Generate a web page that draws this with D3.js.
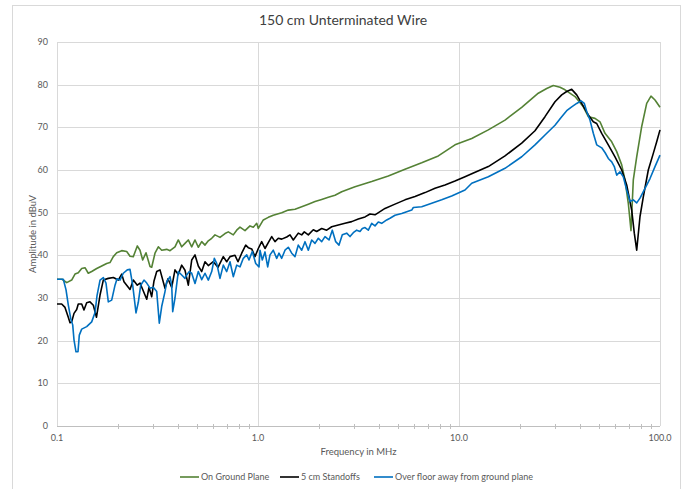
<!DOCTYPE html>
<html>
<head>
<meta charset="utf-8">
<script src="https://cdn.jsdelivr.net/npm/d3@7"></script>
<style>
  body { margin: 0; background: #fff; }
  svg text { font-family: Lato, "Open Sans", sans-serif; fill: #595959; }
</style>
</head>
<body>
<script>
// frequency in MHz, amplitude in dBuV
const groundPlane = [
  [0.100, 34.4], [0.1059, 34.4], [0.1118, 33.6], [0.1183, 34.2], [0.1229, 35.6],
  [0.1276, 35.9], [0.1327, 36.9], [0.1378, 37.1], [0.1431, 35.8], [0.1488, 36.2],
  [0.1576, 36.9], [0.1669, 37.5], [0.1767, 38.1], [0.1835, 38.3], [0.1906, 39.7],
  [0.1982, 40.6], [0.2099, 41.1], [0.2222, 40.9], [0.2308, 39.8], [0.2397, 39.7],
  [0.2509, 42.2], [0.2588, 41.2], [0.2669, 38.9], [0.2772, 40.6], [0.2903, 37.4],
  [0.2959, 37.2], [0.3073, 40.5], [0.3192, 42.0], [0.3318, 41.2], [0.3514, 41.4],
  [0.3650, 41.1], [0.3864, 42.0], [0.4013, 43.6], [0.4173, 42.0], [0.4333, 42.8],
  [0.4500, 43.6], [0.4679, 42.0], [0.4860, 43.6], [0.5047, 41.9], [0.5247, 43.2],
  [0.5449, 42.4], [0.5659, 43.4], [0.5885, 44.0], [0.6111, 44.8], [0.6470, 44.2],
  [0.6852, 45.1], [0.7116, 45.5], [0.7535, 44.8], [0.7834, 45.9], [0.8136, 46.6],
  [0.8615, 45.8], [0.9124, 46.9], [0.9476, 46.6], [0.9851, 47.5], [1.0035, 46.3],
  [1.0627, 48.3], [1.1251, 48.9], [1.1914, 49.4], [1.3119, 50.0], [1.4150, 50.6],
  [1.5281, 50.8], [1.6497, 51.4], [1.7794, 52.0], [1.9215, 52.6], [2.0745, 53.1],
  [2.2380, 53.6], [2.4159, 54.1], [2.6086, 54.9], [2.8138, 55.5], [3.0380, 56.1],
  [3.6790, 57.3], [4.4497, 58.6], [5.3864, 60.2], [6.5222, 61.7], [7.8885, 63.3],
  [9.552, 65.9], [11.57, 67.4], [13.99, 69.4], [16.94, 71.7], [20.51, 74.7],
  [24.80, 78.0], [27.31, 79.1], [29.46, 79.8], [31.81, 79.4], [33.68, 78.8],
  [37.77, 77.2], [41.54, 74.8], [43.99, 72.5], [47.49, 72.1], [50.29, 71.3],
  [53.26, 68.6], [57.51, 66.6], [60.90, 64.3], [64.49, 61.2], [66.97, 57.7],
  [69.55, 52.2], [71.73, 45.8], [73.66, 57.7], [76.57, 63.1], [81.10, 70.2],
  [85.87, 75.6], [90.20, 77.3], [94.43, 76.4], [100.0, 74.7]
];

const standoffs = [
  [0.100, 28.6], [0.1055, 28.6], [0.1096, 27.8], [0.1138, 25.5], [0.1161, 24.2],
  [0.1183, 24.4], [0.1215, 26.4], [0.1253, 27.3], [0.1276, 28.6], [0.1327, 28.6],
  [0.1362, 27.2], [0.1405, 28.9], [0.1459, 29.1], [0.1516, 28.3], [0.1572, 25.5],
  [0.1637, 30.7], [0.1700, 34.2], [0.1800, 34.6], [0.1906, 34.8], [0.2018, 34.2],
  [0.2099, 35.6], [0.2154, 33.8], [0.2222, 33.0], [0.2308, 32.0], [0.2397, 34.2],
  [0.2509, 33.0], [0.2588, 33.5], [0.2669, 32.0], [0.2795, 29.7], [0.2869, 32.5],
  [0.2959, 30.3], [0.3038, 34.0], [0.3134, 36.2], [0.3254, 36.6], [0.3446, 32.3],
  [0.3566, 34.5], [0.3721, 32.5], [0.3864, 36.6], [0.4013, 35.5], [0.4173, 37.7],
  [0.4333, 36.5], [0.4500, 33.0], [0.4679, 38.9], [0.4860, 40.1], [0.5047, 37.5],
  [0.5247, 36.2], [0.5449, 38.5], [0.5659, 37.6], [0.5992, 38.5], [0.6324, 37.2],
  [0.6720, 39.7], [0.6987, 38.5], [0.7256, 39.7], [0.7684, 40.0], [0.7953, 38.5],
  [0.8297, 40.5], [0.8686, 42.4], [0.8949, 41.8], [0.9304, 41.5], [0.9662, 39.7],
  [1.0035, 41.6], [1.0433, 43.2], [1.0834, 41.6], [1.1251, 43.0], [1.1700, 44.4],
  [1.2150, 43.2], [1.2619, 44.0], [1.3119, 43.8], [1.3892, 44.3], [1.4429, 44.8],
  [1.4985, 43.6], [1.5867, 45.2], [1.6497, 44.8], [1.6997, 45.5], [1.7794, 44.8],
  [1.8841, 46.0], [1.9585, 45.6], [2.0745, 46.3], [2.1968, 45.9], [2.3263, 46.7],
  [2.5090, 47.1], [2.7091, 47.5], [2.9250, 47.9], [3.1550, 48.5], [3.4075, 49.0],
  [3.6083, 49.7], [3.8206, 49.5], [4.2837, 51.0], [4.8040, 52.0], [5.3864, 53.0],
  [6.0419, 53.8], [6.7749, 54.7], [7.5973, 55.7], [8.5166, 56.5], [9.552, 57.4],
  [10.71, 58.4], [11.57, 59.1], [13.99, 60.8], [16.94, 63.3], [20.51, 66.3],
  [23.88, 69.2], [26.78, 72.5], [30.03, 76.0], [32.43, 77.6], [34.34, 78.4],
  [36.37, 78.9], [38.51, 77.6], [40.77, 75.6], [43.99, 72.9], [46.58, 71.3],
  [48.43, 70.9], [51.29, 68.6], [55.31, 65.9], [59.73, 63.1], [64.49, 60.0],
  [68.28, 56.5], [72.31, 50.6], [74.50, 45.2], [76.57, 41.2], [79.53, 49.1],
  [82.59, 53.7], [87.46, 60.0], [92.62, 63.9], [96.29, 66.6], [100.0, 69.4]
];

const overFloor = [
  [0.100, 34.4], [0.1075, 34.4], [0.1109, 31.9], [0.1138, 28.4], [0.1170, 25.2],
  [0.1197, 23.7], [0.1215, 20.2], [0.1243, 17.4], [0.1272, 17.4], [0.1291, 21.3],
  [0.1327, 22.7], [0.1405, 23.3], [0.1488, 24.4], [0.1546, 26.6], [0.1581, 30.5],
  [0.1637, 34.2], [0.1700, 34.8], [0.1753, 33.5], [0.1800, 29.1], [0.1871, 29.5],
  [0.1944, 33.0], [0.1989, 34.5], [0.2058, 34.2], [0.2137, 35.8], [0.2237, 36.6],
  [0.2308, 36.7], [0.2380, 33.0], [0.2472, 26.5], [0.2538, 29.0], [0.2609, 33.0],
  [0.2709, 34.2], [0.2795, 33.5], [0.2903, 32.3], [0.3014, 32.5], [0.3134, 31.5],
  [0.3228, 24.1], [0.3318, 28.0], [0.3446, 31.5], [0.3514, 33.8], [0.3650, 35.0],
  [0.3721, 33.0], [0.3764, 26.8], [0.3864, 30.0], [0.4013, 36.2], [0.4173, 35.4],
  [0.4333, 34.6], [0.4419, 35.4], [0.4552, 36.2], [0.4679, 35.8], [0.4860, 33.4],
  [0.5047, 36.2], [0.5247, 34.3], [0.5449, 35.8], [0.5659, 34.2], [0.5885, 36.2],
  [0.6062, 39.3], [0.6231, 38.1], [0.6470, 34.6], [0.6720, 37.7], [0.6987, 36.2],
  [0.7256, 38.5], [0.7535, 35.0], [0.7834, 37.7], [0.8136, 37.3], [0.8450, 39.3],
  [0.8786, 40.1], [0.9020, 38.9], [0.9368, 40.9], [0.9740, 38.1], [1.0115, 37.3],
  [1.0232, 41.2], [1.0505, 38.9], [1.0834, 40.8], [1.1175, 37.3], [1.1472, 40.1],
  [1.1914, 41.2], [1.2389, 39.3], [1.2720, 40.5], [1.3119, 39.3], [1.3624, 41.2],
  [1.4150, 41.9], [1.4713, 40.5], [1.5281, 39.7], [1.5867, 42.4], [1.6497, 41.2],
  [1.7134, 43.2], [1.7794, 41.2], [1.8500, 43.6], [1.9215, 42.8], [1.9953, 44.0],
  [2.0745, 43.2], [2.1544, 44.4], [2.2565, 43.6], [2.3423, 45.9], [2.4353, 43.2],
  [2.5293, 42.4], [2.6269, 44.8], [2.7624, 45.2], [2.8686, 44.4], [2.9791, 45.3],
  [3.0977, 45.9], [3.2172, 45.6], [3.3032, 46.3], [3.4075, 46.5], [3.5387, 45.9],
  [3.6790, 47.5], [3.8206, 46.9], [3.9676, 47.8], [4.1250, 47.5], [4.3680, 48.3],
  [4.5365, 48.7], [4.8040, 49.4], [5.1874, 49.8], [5.8178, 50.6], [5.9255, 51.2],
  [6.5222, 51.4], [7.3153, 52.2], [8.2005, 53.0], [9.1938, 53.9], [10.71, 55.3],
  [11.57, 56.9], [13.99, 58.4], [16.94, 60.4], [20.51, 63.1], [23.88, 65.9],
  [26.78, 68.2], [30.03, 70.5], [32.43, 72.5], [34.34, 73.9], [36.37, 74.8],
  [38.51, 75.6], [40.46, 76.2], [42.02, 75.6], [43.18, 73.7], [44.84, 71.7],
  [46.58, 68.6], [48.43, 65.9], [51.29, 65.2], [53.26, 64.1], [55.31, 62.7],
  [57.51, 61.9], [59.25, 60.8], [60.90, 58.8], [63.24, 59.6], [65.68, 58.4],
  [68.28, 55.3], [70.92, 52.6], [73.66, 53.0], [76.57, 52.3], [79.53, 53.4],
  [84.22, 55.7], [89.18, 58.0], [94.43, 60.8], [100.0, 63.5]
];

const seriesNames = ['On Ground Plane', '5 cm Standoffs', 'Over floor away from ground plane'];
const seriesColors = ['#548235', '#000000', '#0070c0'];
const xTickValues = [0.1, 1, 10, 100];
const xTickLabels = ['0.1', '1.0', '10.0', '100.0'];
const yTickValues = [0, 10, 20, 30, 40, 50, 60, 70, 80, 90];

function main() {
  const width = 686;
  const height = 489;
  const plot = { left: 57, right: 660, top: 42, bottom: 426 };

  const svg = d3.select('body').append('svg')
    .attr('width', width)
    .attr('height', height);

  // chart frame
  svg.append('rect')
    .attr('x', 12.5).attr('y', 5.5)
    .attr('width', 668).attr('height', 500)
    .attr('fill', '#fff')
    .attr('stroke', '#d9d9d9');

  const x = d3.scaleLog().domain([0.1, 100]).range([plot.left, plot.right]);
  const y = d3.scaleLinear().domain([0, 90]).range([plot.bottom, plot.top]);

  // horizontal gridlines
  svg.append('g')
    .selectAll('line')
    .data(yTickValues)
    .enter()
    .append('line')
    .attr('x1', plot.left).attr('x2', plot.right)
    .attr('y1', d => Math.round(y(d)) + 0.5)
    .attr('y2', d => Math.round(y(d)) + 0.5)
    .attr('stroke', '#d9d9d9');

  // vertical gridlines at decades
  svg.append('g')
    .selectAll('line')
    .data(xTickValues)
    .enter()
    .append('line')
    .attr('x1', d => Math.round(x(d)) + 0.5)
    .attr('x2', d => Math.round(x(d)) + 0.5)
    .attr('y1', plot.top).attr('y2', plot.bottom)
    .attr('stroke', '#d9d9d9');

  // minor ticks on the log axis
  const minor = x.ticks().filter(d => !xTickValues.includes(d));
  svg.append('g')
    .selectAll('line')
    .data(minor)
    .enter()
    .append('line')
    .attr('x1', d => Math.round(x(d)) + 0.5)
    .attr('x2', d => Math.round(x(d)) + 0.5)
    .attr('y1', plot.bottom - 2).attr('y2', plot.bottom + 3)
    .attr('stroke', '#bfbfbf');

  // x axis line
  svg.append('line')
    .attr('x1', plot.left).attr('x2', plot.right)
    .attr('y1', Math.round(y(0)) + 0.5).attr('y2', Math.round(y(0)) + 0.5)
    .attr('stroke', '#bfbfbf');

  // tick labels
  svg.append('g')
    .selectAll('text')
    .data(xTickValues)
    .enter()
    .append('text')
    .attr('x', d => x(d))
    .attr('y', plot.bottom + 15)
    .attr('text-anchor', 'middle')
    .attr('font-size', 9)
    .text((d, i) => xTickLabels[i]);

  svg.append('g')
    .selectAll('text')
    .data(yTickValues)
    .enter()
    .append('text')
    .attr('x', plot.left - 9)
    .attr('y', d => y(d) + 3)
    .attr('text-anchor', 'end')
    .attr('font-size', 9)
    .text(d => d);

  // lines
  const line = d3.line()
    .x(d => x(d[0]))
    .y(d => y(d[1]));

  [groundPlane, standoffs, overFloor].forEach((data, i) => {
    svg.append('path')
      .datum(data)
      .attr('d', line)
      .attr('fill', 'none')
      .attr('stroke', seriesColors[i])
      .attr('stroke-width', 1.6)
      .attr('stroke-linejoin', 'round');
  });

  // titles
  svg.append('text')
    .attr('x', 343).attr('y', 25)
    .attr('text-anchor', 'middle')
    .attr('font-size', 14)
    .style('fill', '#404040')
    .text('150 cm Unterminated Wire');

  svg.append('text')
    .attr('x', (plot.left + plot.right) / 2).attr('y', 455)
    .attr('text-anchor', 'middle')
    .attr('font-size', 9.5)
    .text('Frequency in MHz');

  svg.append('text')
    .attr('transform', `translate(36,${(plot.top + plot.bottom) / 2}) rotate(-90)`)
    .attr('text-anchor', 'middle')
    .attr('font-size', 9.5)
    .text('Amplitude in dBuV');

  // legend
  const legendX = [180, 280, 374];
  const legend = svg.append('g')
    .selectAll('g')
    .data(seriesNames)
    .enter()
    .append('g')
    .attr('transform', (d, i) => `translate(${legendX[i]},477)`);
  legend.append('line')
    .attr('x1', 0).attr('x2', 19)
    .attr('stroke', (d, i) => seriesColors[i])
    .attr('stroke-width', 1.6);
  legend.append('text')
    .attr('x', 21).attr('y', 3)
    .attr('font-size', 9)
    .text(d => d);
}

main();
</script>
</body>
</html>
